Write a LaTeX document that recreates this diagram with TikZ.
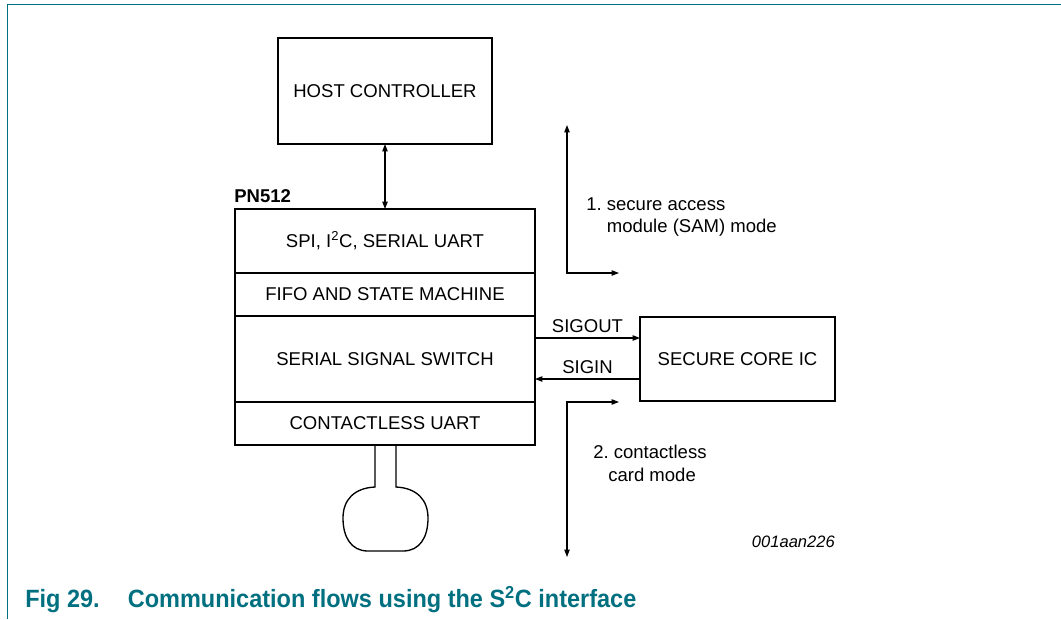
\documentclass[tikz,border=0pt]{standalone}
\usepackage{fontspec}
\setmainfont{Liberation Sans}
\usepackage{xcolor}
\usepackage{graphicx}
\usetikzlibrary{arrows.meta,positioning}
\definecolor{nxpteal}{RGB}{0,112,128}
\newcommand{\px}{0.75pt}
\tikzset{
  sigtip/.tip={Triangle[length=5.5pt,width=4pt]},
  blockbox/.style={draw, line width=1.5pt, inner sep=0pt, outer sep=0pt},
  flowline/.style={line width=0.8pt},
  modetext/.style={anchor=base west, inner sep=0pt},
}

\begin{document}
\begin{tikzpicture}[x=0.75pt, y=-0.75pt, font=\fontsize{13.9}{16.5}\selectfont]
\useasboundingbox (0,0) rectangle (1061,619);
\draw[nxpteal, line width=1.1pt] (7.3,619) -- (7.3,4.5) -- (1061,4.5);

% host and PN512 stack
\node[blockbox, minimum width=214*\px, minimum height=106*\px] (host) at (385,91) {HOST CONTROLLER};
\node[blockbox, minimum width=300*\px, minimum height=64*\px] (spi) at (385,241) {SPI, I\textsuperscript{2}C, SERIAL UART};
\node[blockbox, minimum width=300*\px, minimum height=43*\px, below=0pt of spi] (fifo) {FIFO AND STATE MACHINE};
\node[blockbox, minimum width=300*\px, minimum height=86*\px, below=0pt of fifo] (sws) {SERIAL SIGNAL SWITCH};
\node[blockbox, minimum width=300*\px, minimum height=43*\px, below=0pt of sws] (cuart) {CONTACTLESS UART};
\node[anchor=base west, inner sep=0pt, font=\fontsize{13.9}{16.5}\selectfont\bfseries] (pnlabel) at (234,202) {PN512};
\draw[flowline, sigtip-sigtip] (host) -- (spi);

% antenna
\draw[line width=1pt] (375,445) -- (375,487) .. controls (354,488) and (343,500) .. (343,518)
  .. controls (343,537) and (351,551) .. (368,551) -- (403,551) .. controls (420,551) and (428,537) .. (428,518)
  .. controls (428,500) and (417,488) .. (396,487) -- (396,445);

% secure core
\node[blockbox, minimum width=195*\px, minimum height=84*\px] (sci) at (737.5,359) {SECURE CORE IC};
\draw[flowline, -sigtip] ([yshift=15.75pt]sws.east) -- node[above] {SIGOUT} ([yshift=15.75pt]sci.west);
\draw[flowline, -sigtip] ([yshift=-15pt]sci.west) -- node[above] {SIGIN} ([yshift=-15pt]sws.east);

% modes
\coordinate (samtop) at (567,125);
\coordinate (samcorner) at (567,273);
\coordinate (samright) at (619,273);
\draw[flowline, sigtip-sigtip] (samtop) -- (samcorner) -- (samright);
\node[modetext] (sam1) at (586,210) {1.\ secure access};
\node[modetext] (sam2) at (606.6,232) {module (SAM) mode};

\coordinate (cardright) at (619,402);
\coordinate (cardcorner) at (567,402);
\coordinate (cardbot) at (567,557);
\draw[flowline, sigtip-sigtip] (cardright) -- (cardcorner) -- (cardbot);
\node[modetext] (card1) at (593,458) {2.\ contactless};
\node[modetext] (card2) at (608,481) {card mode};

\node[anchor=base east, inner sep=0pt, font=\fontsize{12.4}{14}\selectfont\itshape] (figid) at (835,547) {001aan226};
\node[anchor=base west, inner sep=0pt, text=nxpteal, font=\fontsize{18.75}{22}\selectfont\bfseries] (caption) at (25,607)
  {\scalebox{0.94}[1]{Fig 29.\hspace{1.2em}Communication flows using the S\textsuperscript{\fontsize{13}{14}\selectfont 2}C interface}};
\end{tikzpicture}
\end{document}
